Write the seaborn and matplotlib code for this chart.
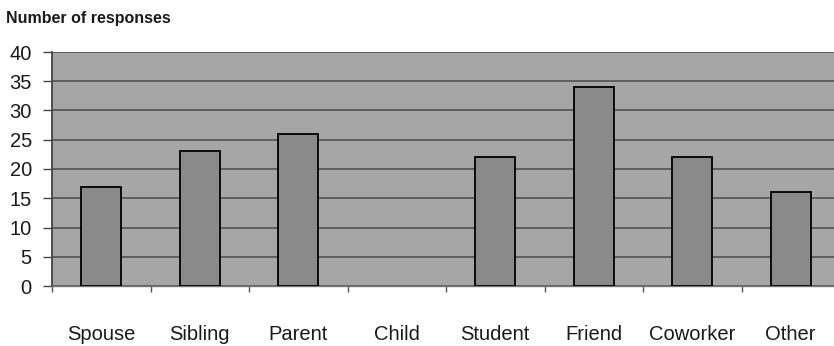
import matplotlib
matplotlib.use("Agg")
import matplotlib.pyplot as plt
import seaborn as sns
import pandas as pd
from matplotlib.ticker import FixedLocator

categories = ["Spouse", "Sibling", "Parent", "Child", "Student", "Friend", "Coworker", "Other"]
responses = [17, 23, 26, 0, 22, 34, 22, 16]
y_ticks = [0, 5, 10, 15, 20, 25, 30, 35, 40]

df = pd.DataFrame({"relation": categories, "responses": responses})

sns.set_theme(style="white")
plt.rcParams["font.family"] = ["Liberation Sans", "DejaVu Sans"]

fig = plt.figure(figsize=(8.34, 3.46), dpi=100)
ax = fig.add_axes([52 / 834, 60 / 346, 788 / 834, 234 / 346])
ax.set_facecolor("#a6a6a6")

sns.barplot(data=df, x="relation", y="responses", ax=ax, color="#8a8a8a",
            saturation=1, width=0.41, edgecolor="black", linewidth=1.3, zorder=3)

# an empty category shows no outline
for patch in ax.patches:
    if patch.get_height() == 0:
        patch.set_linewidth(0)

ax.set_ylim(0, 40)
ax.set_xlim(-0.5, len(categories) - 0.5)
ax.set_yticks(y_ticks)
ax.yaxis.grid(True, color="#4a4a4a", linewidth=1.1, zorder=1)
ax.set_axisbelow(True)

ax.set_xlabel("")
ax.set_ylabel("")

# category boundary ticks below the axis
ax.xaxis.set_minor_locator(FixedLocator([i - 0.5 for i in range(len(categories) + 1)]))
ax.tick_params(axis="x", which="major", length=0, pad=28, labelsize=14.5, labelcolor="#1a1a1a")
ax.tick_params(axis="x", which="minor", length=4, width=1, color="#555555", direction="out", bottom=True)
ax.tick_params(axis="y", which="major", length=6.5, width=1, color="#444444", direction="out",
               pad=8, labelsize=14.5, labelcolor="#1a1a1a", left=True)

for side in ["top", "right"]:
    ax.spines[side].set_visible(False)
ax.spines["left"].set_color("#444444")
ax.spines["left"].set_linewidth(1.3)
ax.spines["bottom"].set_color("#777777")
ax.spines["bottom"].set_linewidth(1.0)

fig.text(6 / 834, 1 - 18 / 346, "Number of responses", fontsize=11.5, fontweight="bold",
         color="#1a1a1a", va="center", ha="left")

fig.savefig("out.png", dpi=100)
